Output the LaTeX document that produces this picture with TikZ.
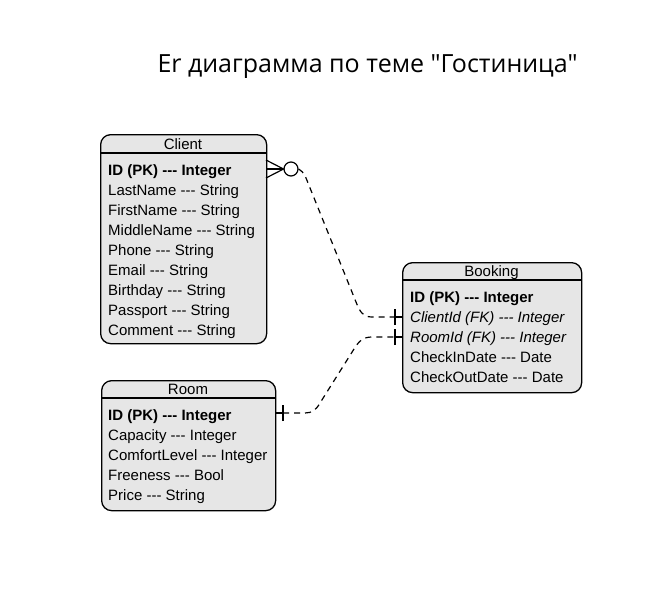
\documentclass[tikz,border=0pt]{standalone}
\usepackage{fontspec}
\setmainfont{Liberation Sans}[Ligatures=TeXOff]
\newfontfamily\titlefont{Open Sans}[Ligatures=TeXOff]
\definecolor{boxgrey}{HTML}{E6E6E6}
\tikzset{
  entity/.style={draw=black, line width=1.3pt, fill=boxgrey, rounded corners=10pt, inner sep=0pt, anchor=north west},
  attr/.style={anchor=base west, inner sep=0pt, font=\fontsize{15}{18}\selectfont},
  hdr/.style={anchor=base, inner sep=0pt, font=\fontsize{15}{18}\selectfont},
  sep/.style={line width=1.3pt},
  rel/.style={line width=1.2pt, dash pattern=on 6pt off 5pt},
  relsolid/.style={line width=1.2pt}
}
\begin{document}
\begin{tikzpicture}[x=1pt,y=-1pt]
\useasboundingbox (0,0) rectangle (672,590);
% title
\node[anchor=base, inner sep=0pt, font=\titlefont\fontsize{25}{30}\selectfont] (title) at (367.5,72) {Er диаграмма по теме "Гостиница"};
% Client
\node[entity, minimum width=166pt, minimum height=209pt] (client) at (100,134) {};
\draw[sep] ([yshift=-19pt]client.north west) -- ([yshift=-19pt]client.north east);
\node[hdr] (clientT) at (183,149.4) {Client};
\node[attr] (c1) at (108,175.4) {\bfseries ID (PK) --- Integer};
\node[attr] (c2) at (108,195.4) {LastName --- String};
\node[attr] (c3) at (108,215.4) {FirstName --- String};
\node[attr] (c4) at (108,235.4) {MiddleName --- String};
\node[attr] (c5) at (108,255.4) {Phone --- String};
\node[attr] (c6) at (108,275.4) {Email --- String};
\node[attr] (c7) at (108,295.4) {Birthday --- String};
\node[attr] (c8) at (108,315.4) {Passport --- String};
\node[attr] (c9) at (108,335.4) {Comment --- String};
% Booking
\node[entity, minimum width=179pt, minimum height=130pt] (booking) at (402,262) {};
\draw[sep] ([yshift=-18pt]booking.north west) -- ([yshift=-18pt]booking.north east);
\node[hdr] (bookingT) at (491.5,276.4) {Booking};
\node[attr] (b1) at (410,302.4) {\bfseries ID (PK) --- Integer};
\node[attr] (b2) at (410,322.4) {\itshape ClientId (FK) --- Integer};
\node[attr] (b3) at (410,342.4) {\itshape RoomId (FK) --- Integer};
\node[attr] (b4) at (410,362.4) {CheckInDate --- Date};
\node[attr] (b5) at (410,382.4) {CheckOutDate --- Date};
% Room
\node[entity, minimum width=174pt, minimum height=130pt] (room) at (101,380) {};
\draw[sep] ([yshift=-18pt]room.north west) -- ([yshift=-18pt]room.north east);
\node[hdr] (roomT) at (188,394.4) {Room};
\node[attr] (r1) at (108,420.4) {\bfseries ID (PK) --- Integer};
\node[attr] (r2) at (108,440.4) {Capacity --- Integer};
\node[attr] (r3) at (108,460.4) {ComfortLevel --- Integer};
\node[attr] (r4) at (108,480.4) {Freeness --- Bool};
\node[attr] (r5) at (108,500.4) {Price --- String};
% connector ends
\coordinate (cE) at (266,169);
\coordinate (cFoot) at (283.5,169);
\node[draw=black, line width=1.2pt, fill=white, circle, minimum size=14pt, inner sep=0pt] (cCirc) at (291,169) {};
\coordinate (bkC) at (402,317);
\coordinate (bkCbar) at (395,317);
\coordinate (bkR) at (402,337);
\coordinate (bkRbar) at (395,337);
\coordinate (rmE) at (275,413);
\coordinate (rmBar) at (283,413);
% Client zero-to-many
\draw[relsolid] ([yshift=-9pt]cE) -- (cFoot) -- ([yshift=9pt]cE);
\draw[relsolid] (cE) -- ([xshift=-1pt]cFoot);
\draw[rel] (cCirc.east) .. controls (301,170) and (303,172) .. (306,178) -- (356,302)
  .. controls (360,312) and (363,317) .. (372,317) -- (bkCbar);
\draw[relsolid] (bkCbar) -- (bkC);
\draw[relsolid] ([yshift=-8pt]bkCbar) -- ([yshift=8pt]bkCbar);
% Room one
\draw[relsolid] (rmE) -- (rmBar);
\draw[relsolid] ([yshift=-8pt]rmBar) -- ([yshift=8pt]rmBar);
\draw[rel] (rmBar) -- (305,413) .. controls (312,413) and (316,410) .. (320,403) -- (354,349)
  .. controls (359,341) and (363,337) .. (372,337) -- (bkRbar);
\draw[relsolid] (bkRbar) -- (bkR);
\draw[relsolid] ([yshift=-8pt]bkRbar) -- ([yshift=8pt]bkRbar);
\end{tikzpicture}
\end{document}
